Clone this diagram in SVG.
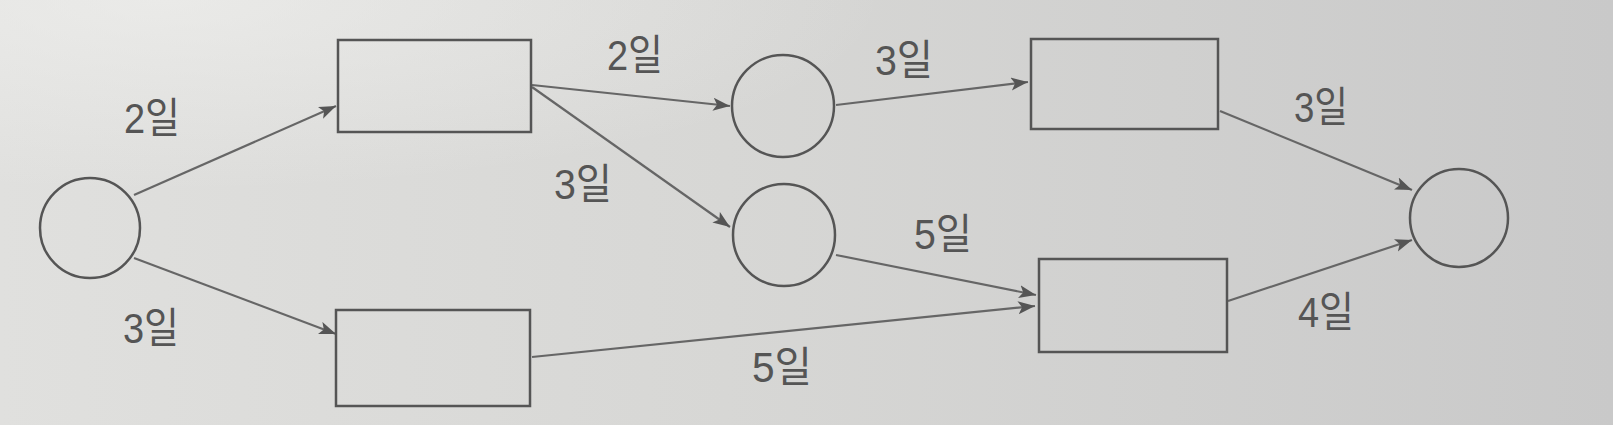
<svg xmlns="http://www.w3.org/2000/svg" width="1613" height="425" viewBox="0 0 1613 425">
<defs>
<linearGradient id="bg" x1="0" y1="0" x2="1" y2="0">
<stop offset="0" stop-color="#e0e0de"/>
<stop offset="0.45" stop-color="#d7d7d5"/>
<stop offset="1" stop-color="#c9c9c9"/>
</linearGradient>
<radialGradient id="hl" cx="0.1" cy="0" r="0.45">
<stop offset="0" stop-color="#f2f2f0" stop-opacity="0.6"/>
<stop offset="1" stop-color="#f2f2f0" stop-opacity="0"/>
</radialGradient>
<marker id="arr" markerUnits="userSpaceOnUse" markerWidth="20" markerHeight="14" refX="17" refY="6.5" orient="auto">
<path d="M0,0 L17,6.5 L0,13 L4,6.5 z" fill="#555"/>
</marker>
</defs>
<style>
.node{fill:none;stroke:#555;stroke-width:2.5}
.edge{fill:none;stroke:#666;stroke-width:2.2;marker-end:url(#arr)}
.lbl{font-family:"Liberation Sans","Noto Sans CJK KR",sans-serif;font-size:42px;fill:#555;text-anchor:middle}
</style>
<rect width="1613" height="425" fill="url(#bg)"/>
<rect width="1613" height="425" fill="url(#hl)"/>
<g id="connectors">
<line class="edge" x1="134" y1="195" x2="336" y2="106"/>
<line class="edge" x1="134" y1="258" x2="336" y2="334"/>
<line class="edge" x1="532" y1="85" x2="730" y2="106"/>
<line class="edge" x1="532" y1="87" x2="730" y2="227"/>
<line class="edge" x1="836" y1="105" x2="1028" y2="82"/>
<line class="edge" x1="836" y1="255" x2="1036" y2="295"/>
<line class="edge" x1="532" y1="357" x2="1035" y2="306"/>
<line class="edge" x1="1220" y1="111" x2="1412" y2="190"/>
<line class="edge" x1="1228" y1="301" x2="1412" y2="240"/>
</g>
<g id="n_start"><circle class="node" cx="90" cy="228" r="50"/></g>
<g id="n_b1"><rect class="node" x="338" y="40" width="193" height="92"/></g>
<g id="n_b2"><rect class="node" x="336" y="310" width="194" height="96"/></g>
<g id="n_c1"><circle class="node" cx="783" cy="106" r="51"/></g>
<g id="n_c2"><circle class="node" cx="784" cy="235" r="51"/></g>
<g id="n_e1"><rect class="node" x="1031" y="39" width="187" height="90"/></g>
<g id="n_e2"><rect class="node" x="1039" y="259" width="188" height="93"/></g>
<g id="n_end"><circle class="node" cx="1459" cy="218" r="49"/></g>
<g id="labels">
<text class="lbl" x="152" y="133" textLength="56" lengthAdjust="spacingAndGlyphs">2일</text>
<text class="lbl" x="151" y="343" textLength="56" lengthAdjust="spacingAndGlyphs">3일</text>
<text class="lbl" x="635" y="70" textLength="56" lengthAdjust="spacingAndGlyphs">2일</text>
<text class="lbl" x="583" y="199" textLength="58" lengthAdjust="spacingAndGlyphs">3일</text>
<text class="lbl" x="904" y="75" textLength="58" lengthAdjust="spacingAndGlyphs">3일</text>
<text class="lbl" x="943" y="249" textLength="58" lengthAdjust="spacingAndGlyphs">5일</text>
<text class="lbl" x="782" y="382" textLength="60" lengthAdjust="spacingAndGlyphs">5일</text>
<text class="lbl" x="1321" y="122" textLength="54" lengthAdjust="spacingAndGlyphs">3일</text>
<text class="lbl" x="1326" y="327" textLength="56" lengthAdjust="spacingAndGlyphs">4일</text>
</g>
</svg>
